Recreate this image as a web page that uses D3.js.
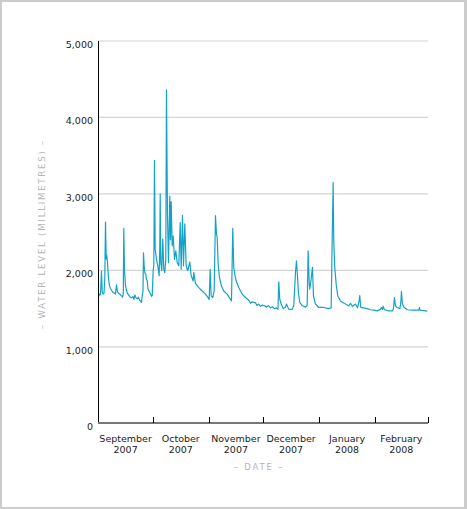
<!DOCTYPE html>
<html><head><meta charset="utf-8">
<script src="https://cdn.jsdelivr.net/npm/d3@7/dist/d3.min.js"></script>
<style>
html,body{margin:0;padding:0;background:#fff;}
text{font-family:"DejaVu Sans",Verdana,sans-serif;}
</style></head>
<body><svg id="chart" width="467" height="509"></svg>
<script>
// Days since 1 Sep 2007 and water level (mm)
const startDate = "2007-09-01";
const days = [0,0.55,1.1,1.66,2.05,2.5,3.04,3.48,3.87,4.26,4.59,4.98,5.53,6.08,6.64,7.74,8.85,9.4,9.96,10.5,11.06,12.17,13.27,13.72,13.99,14.38,14.93,15.49,16.04,17.15,18.25,19.08,19.63,20.19,20.74,21.57,22.12,22.68,23.23,23.78,24.34,24.61,24.89,25.28,25.72,26.16,26.55,26.94,27.38,27.93,28.76,29.31,29.7,30.25,30.59,30.97,31.36,32.08,32.8,33.57,33.9,34.13,34.46,35.01,35.56,36.12,36.67,37.22,37.61,38.17,38.72,39.44,39.82,40.21,40.76,41.32,42.04,42.76,43.53,44.41,45.19,45.74,46.46,47.01,47.73,48.51,49.39,50.5,51.27,52.38,52.71,53.65,55.48,57.36,59.18,60.45,61.23,61.78,62.33,63.22,63.99,64.71,65.27,65.65,66.2,66.92,68.03,69.3,71.18,73.01,73.56,74.28,74.83,75.39,76.16,77.6,79.48,81.31,83.13,84.1,85.01,86.84,87.7,88.66,89.6,90.54,91.98,92.92,94.03,95.13,96.24,97.35,98.45,99.28,99.72,100.28,101.05,102.16,103.43,103.98,105.25,107.13,108.02,108.96,109.51,110.07,110.62,111.34,112.67,114.49,115.43,115.98,116.54,116.87,117.64,118.36,118.92,120.02,121.85,124.61,127.38,128.71,129.26,129.81,130.14,130.7,131.47,132.36,133.85,135.12,136.62,138.44,139.38,140.49,142.15,143.25,144.19,144.52,145.08,146.57,148.62,150.44,152.27,154.15,155.97,156.53,157.08,157.47,158.19,160.56,162.61,163.16,163.72,164.27,165.21,166.76,167.31,167.59,168.14,168.86,170.74,173.67,176.27,177.27,177.54,177.82,180.86,181.9];
const levels = [1650,1690,1680,1990,1720,1690,1700,1900,2630,2150,2200,2100,1900,1800,1760,1720,1700,1690,1810,1720,1700,1680,1650,1700,2550,2000,1800,1740,1700,1660,1640,1660,1620,1680,1640,1630,1650,1610,1600,1580,1700,1720,2230,2050,1960,1950,1880,1870,1760,1730,1690,1660,1670,2000,2060,3440,2280,2145,2060,1930,2300,3000,2100,1995,2410,2015,1970,2145,4360,2700,2100,2970,2400,2900,2320,2450,2145,2255,2100,2060,2625,2015,2720,2060,2610,2060,1995,2110,1930,1860,1975,1830,1775,1730,1690,1650,1620,2015,1665,1645,1735,2715,2475,2430,2080,1905,1795,1730,1690,1620,1600,2550,2040,1950,1860,1775,1690,1645,1610,1570,1590,1575,1540,1560,1530,1545,1535,1520,1540,1510,1525,1500,1510,1490,1850,1620,1560,1500,1520,1560,1490,1490,1540,1970,2125,1930,1710,1580,1540,1520,1540,2255,1840,1755,1885,2040,1665,1560,1515,1515,1500,1510,2385,3150,2385,2040,1820,1665,1600,1580,1560,1535,1570,1530,1560,1510,1600,1670,1515,1510,1500,1485,1480,1470,1490,1515,1490,1530,1485,1470,1470,1500,1645,1535,1515,1500,1600,1725,1560,1520,1485,1480,1480,1480,1515,1480,1470,1465];
const yTicks = [0,1000,2000,3000,4000,5000];
const monthLabels = [["September","2007"],["October","2007"],["November","2007"],["December","2007"],["January","2008"],["February","2008"]];
const monthStarts = ["2007-09-01","2007-10-01","2007-11-01","2007-12-01","2008-01-01","2008-02-01","2008-03-01"];

const parse = d3.utcParse("%Y-%m-%d");
const t0 = parse(startDate);
const data = days.map((d,i)=>({date:new Date(t0.getTime()+d*86400000), v:levels[i]}));
const months = monthStarts.map(parse);

const svg = d3.select("#chart");
svg.append("rect").attr("x",0).attr("y",0).attr("width",467).attr("height",509).attr("fill","#cccccc");
svg.append("rect").attr("x",2).attr("y",2).attr("width",462).attr("height",505).attr("fill","#ffffff");

const x = d3.scaleUtc().domain([months[0], months[months.length-1]]).range([98.5,427.5]);
const y = d3.scaleLinear().domain([0,5000]).range([423.3,41]);

// gridlines
svg.append("g").selectAll("line").data(yTicks.filter(d=>d>0)).join("line")
  .attr("x1",98.5).attr("x2",428).attr("y1",d=>y(d)).attr("y2",d=>y(d))
  .attr("stroke","#d4d4d4").attr("stroke-width",1.2);

// y tick labels
svg.append("g").selectAll("text").data(yTicks).join("text")
  .attr("x",93).attr("y",d=>y(d)+7).attr("text-anchor","end")
  .attr("font-size","9.5px").attr("fill","#222")
  .text(d3.format(","));

// line
const line = d3.line().x(d=>x(d.date)).y(d=>y(d.v));
svg.append("path").datum(data).attr("d",line)
  .attr("fill","none").attr("stroke","#14a3c7").attr("stroke-width",1.2).attr("stroke-linejoin","round");

// y axis line
svg.append("line").attr("x1",98.5).attr("x2",98.5).attr("y1",41).attr("y2",423)
  .attr("stroke","#000").attr("stroke-width",1);
// x axis line
svg.append("line").attr("x1",98).attr("x2",428).attr("y1",423).attr("y2",423)
  .attr("stroke","#777").attr("stroke-width",2);
// x ticks
svg.append("g").selectAll("line").data(months.slice(1)).join("line")
  .attr("x1",d=>Math.round(x(d))+0.5).attr("x2",d=>Math.round(x(d))+0.5)
  .attr("y1",417).attr("y2",423).attr("stroke","#000").attr("stroke-width",1);

// month labels
const lab = svg.append("g").selectAll("text").data(monthLabels).join("text")
  .attr("text-anchor","middle").attr("font-size","9.5px").attr("fill","#222")
  .attr("transform",(d,i)=>`translate(${(x(months[i])+x(months[i+1]))/2},0)`);
lab.append("tspan").attr("x",0).attr("y",442).text(d=>d[0]);
lab.append("tspan").attr("x",0).attr("y",453).text(d=>d[1]);

// axis titles
svg.append("text").attr("x",259).attr("y",470).attr("text-anchor","middle")
  .attr("font-size","8.5px").attr("fill","#b5b5b5").attr("letter-spacing","1.8px")
  .text("– DATE –");
svg.append("text").attr("transform","translate(45,234) rotate(-90)").attr("text-anchor","middle")
  .attr("font-size","8.5px").attr("fill","#b5b5b5").attr("letter-spacing","1.8px")
  .text("– WATER LEVEL (MILLIMETRES) –");
</script></body></html>
